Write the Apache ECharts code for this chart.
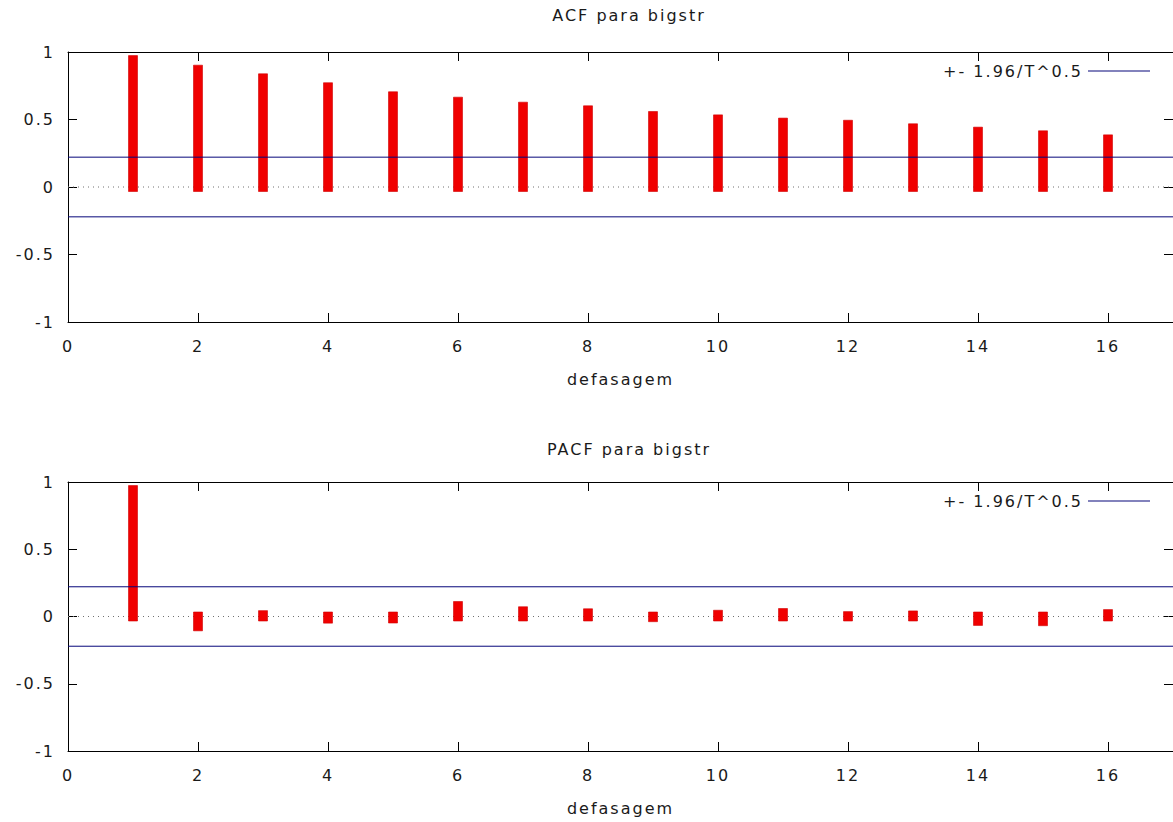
<!DOCTYPE html>
<html>
<head>
<meta charset="utf-8">
<script src="https://cdn.jsdelivr.net/npm/echarts@6/dist/echarts.min.js"></script>
<style>
  html, body { margin: 0; padding: 0; background: #ffffff; }
  #chart { width: 1173px; height: 822px; letter-spacing: 2px; }
</style>
</head>
<body>
<div id="chart"></div>
<script>
// ---- data ----
const lags = [1, 2, 3, 4, 5, 6, 7, 8, 9, 10, 11, 12, 13, 14, 15, 16];
const acfValues = [0.94, 0.869, 0.805, 0.739, 0.672, 0.632, 0.595, 0.568, 0.526, 0.501, 0.477, 0.461, 0.435, 0.410, 0.383, 0.353];
const pacfValues = [0.94, -0.073, 0.01, -0.016, -0.015, 0.078, 0.039, 0.024, -0.005, 0.013, 0.026, 0.003, 0.008, -0.033, -0.035, 0.018];
const bandValue = 0.221;           // +- 1.96/T^0.5
const bandName = '+- 1.96/T^0.5';
const panelTitles = ['ACF para bigstr', 'PACF para bigstr'];
const xAxisName = 'defasagem';
const xTickLabels = [0, 2, 4, 6, 8, 10, 12, 14, 16];
const yTickLabels = [-1, -0.5, 0, 0.5, 1];

// ---- styling ----
const FONT = 'DejaVu Sans';
const FS = 16;
const TXT = '#1a1a1a';
const RED = '#f00000';
const BLUE = '#06067a';

const panels = [
  { values: acfValues, top: 52, height: 270, titleTop: 2 },
  { values: pacfValues, top: 482, height: 269, titleTop: 436 }
];

const grid = [], xAxis = [], yAxis = [], series = [], title = [], legend = [];

panels.forEach((p, g) => {
  grid.push({ left: 68, top: p.top, width: 1108, height: p.height, containLabel: false });
  title.push({
    text: panelTitles[g], left: 624, top: p.titleTop, textAlign: 'center',
    textStyle: { fontFamily: FONT, fontSize: FS, fontWeight: 'normal', color: TXT }
  });
  const lineSt = { show: true, onZero: false, lineStyle: { color: '#000', width: 1 } };
  const tickSt = { show: true, inside: true, length: 9, lineStyle: { color: '#000', width: 1 } };
  xAxis.push({
    gridIndex: g, type: 'value', position: 'bottom', min: 0, max: 17, interval: 2,
    axisLine: lineSt, axisTick: tickSt, splitLine: { show: false },
    axisLabel: {
      margin: 16, fontFamily: FONT, fontSize: FS, color: TXT, showMaxLabel: false,
      formatter: v => (xTickLabels.indexOf(v) >= 0 ? String(v) : '')
    },
    name: xAxisName, nameLocation: 'middle', nameGap: 49,
    nameTextStyle: { fontFamily: FONT, fontSize: FS, color: TXT }
  });
  xAxis.push({
    gridIndex: g, type: 'value', position: 'top', min: 0, max: 17, interval: 2,
    axisLine: lineSt, axisTick: tickSt, axisLabel: { show: false }, splitLine: { show: false }
  });
  yAxis.push({
    gridIndex: g, type: 'value', position: 'left', min: -1, max: 1, interval: 0.5,
    axisLine: lineSt, axisTick: tickSt, splitLine: { show: false },
    axisLabel: {
      margin: 13, fontFamily: FONT, fontSize: FS, color: TXT, padding: [4, 0, 0, 0],
      formatter: v => (yTickLabels.indexOf(v) >= 0 ? String(v) : '')
    }
  });
  yAxis.push({
    gridIndex: g, type: 'value', position: 'right', min: -1, max: 1, interval: 0.5,
    axisLine: lineSt, axisTick: tickSt, axisLabel: { show: false }, splitLine: { show: false }
  });

  const xi = g * 2, yi = g * 2;
  // dotted zero axis
  series.push({
    type: 'line', xAxisIndex: xi, yAxisIndex: yi, silent: true, symbol: 'none', z: 1,
    data: [[0, 0], [17, 0]],
    lineStyle: { color: '#707070', width: 1, type: [1, 4] }
  });
  // impulses
  series.push({
    type: 'custom', xAxisIndex: xi, yAxisIndex: yi, z: 3, silent: true,
    data: lags.map((l, i) => [l, p.values[i]]),
    encode: { x: 0, y: 1 },
    renderItem: function (params, api) {
      const a = api.coord([api.value(0), 0]);
      const b = api.coord([api.value(0), api.value(1)]);
      const half = 4.5;
      const y1 = Math.min(a[1], b[1]) - half;
      const y2 = Math.max(a[1], b[1]) + half;
      return {
        type: 'rect',
        shape: { x: a[0] - half, y: y1, width: half * 2, height: y2 - y1 },
        style: { fill: RED, stroke: '#d00000', lineWidth: 0.6 }
      };
    }
  });
  // confidence band lines
  [bandValue, -bandValue].forEach(v => {
    series.push({
      type: 'line', name: bandName, xAxisIndex: xi, yAxisIndex: yi, symbol: 'none', z: 5,
      silent: true, data: [[0, v], [17, v]],
      lineStyle: { color: BLUE, width: 1 }, itemStyle: { color: BLUE }
    });
  });
  legend.push({
    data: [bandName], selectedMode: false, orient: 'horizontal', align: 'right',
    right: 23, top: p.top + 11, padding: 0,
    icon: 'rect', itemWidth: 62, itemHeight: 1,
    itemStyle: { color: BLUE },
    textStyle: { fontFamily: FONT, fontSize: FS, color: TXT, width: 158 }
  });
});

const chart = echarts.init(document.getElementById('chart'), null, { renderer: 'svg' });
chart.setOption({
  animation: false,
  backgroundColor: '#ffffff',
  textStyle: { fontFamily: FONT },
  title, legend, grid, xAxis, yAxis, series
});
</script>
</body>
</html>
